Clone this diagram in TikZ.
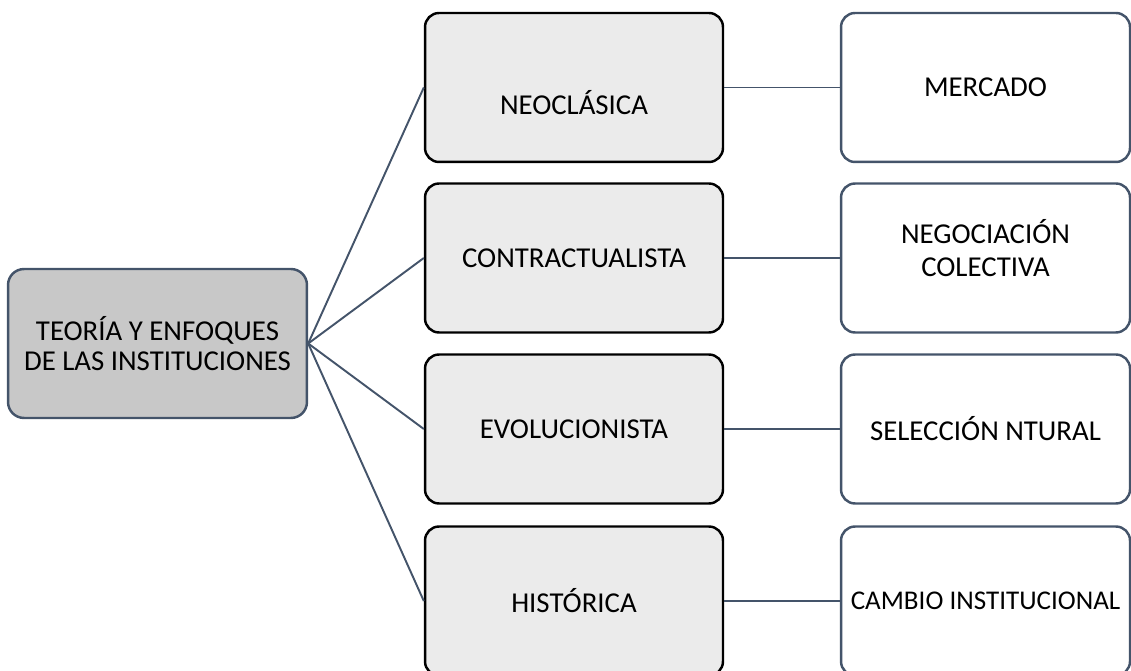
\documentclass[tikz,border=0pt]{standalone}
\usepackage{fontspec}
\setmainfont{Carlito}
\usepackage{xcolor}
\definecolor{slate}{RGB}{68,84,106}
\definecolor{rootgray}{RGB}{200,200,200}
\definecolor{paler}{RGB}{235,235,235}
\tikzstyle{root}=[draw=slate, fill=rootgray, line width=1.4pt, rounded corners=0.32cm, minimum width=5.98cm, minimum height=2.98cm, align=center, font=\fontsize{16.4}{17}\selectfont]
\tikzstyle{approach}=[draw=black, fill=paler, line width=1.4pt, rounded corners=0.28cm, minimum width=5.96cm, minimum height=2.98cm, align=center, font=\fontsize{16.4}{19}\selectfont]
\tikzstyle{focus}=[draw=slate, fill=white, line width=1.4pt, rounded corners=0.28cm, minimum width=5.78cm, minimum height=2.98cm, inner xsep=1pt, align=center, font=\fontsize{16.4}{19.3}\selectfont]
\tikzstyle{link}=[draw=slate, line width=1.1pt]

\begin{document}
\begin{tikzpicture}[x=0.02cm, y=-0.02cm]
  \useasboundingbox (0,0) rectangle (1131,671);
  %% Root
  \draw (157.5,343.5) node[root] (T) {TEORÍA Y ENFOQUES\\DE LAS INSTITUCIONES};

  %% Approaches
  \draw (574,87.5) node[approach, text height=1.2cm, text depth=0.1cm] (A1) {NEOCLÁSICA};
  \draw (574,258) node[approach] (A2) {CONTRACTUALISTA};
  \draw (574,429) node[approach] (A3) {EVOLUCIONISTA};
  \draw (574,601) node[approach] (A4) {HISTÓRICA};

  %% Focus of each one
  \draw (985.5,87.5) node[focus] (F1) {MERCADO};
  \draw (985.5,258) node[focus, text depth=0.4cm] (F2) {NEGOCIACIÓN\\COLECTIVA};
  \draw (985.5,429) node[focus] (F3) {SELECCIÓN NTURAL};
  \draw (985.5,601) node[focus, font=\fontsize{15.4}{18}\selectfont] (F4) {CAMBIO INSTITUCIONAL};

  \draw[link] (T.east) -- (A1.west);
  \draw[link] (T.east) -- (A2.west);
  \draw[link] (T.east) -- (A3.west);
  \draw[link] (T.east) -- (A4.west);

  \draw[link] (A1) -- (F1);
  \draw[link] (A2) -- (F2);
  \draw[link] (A3) -- (F3);
  \draw[link] (A4) -- (F4);
\end{tikzpicture}
\end{document}
